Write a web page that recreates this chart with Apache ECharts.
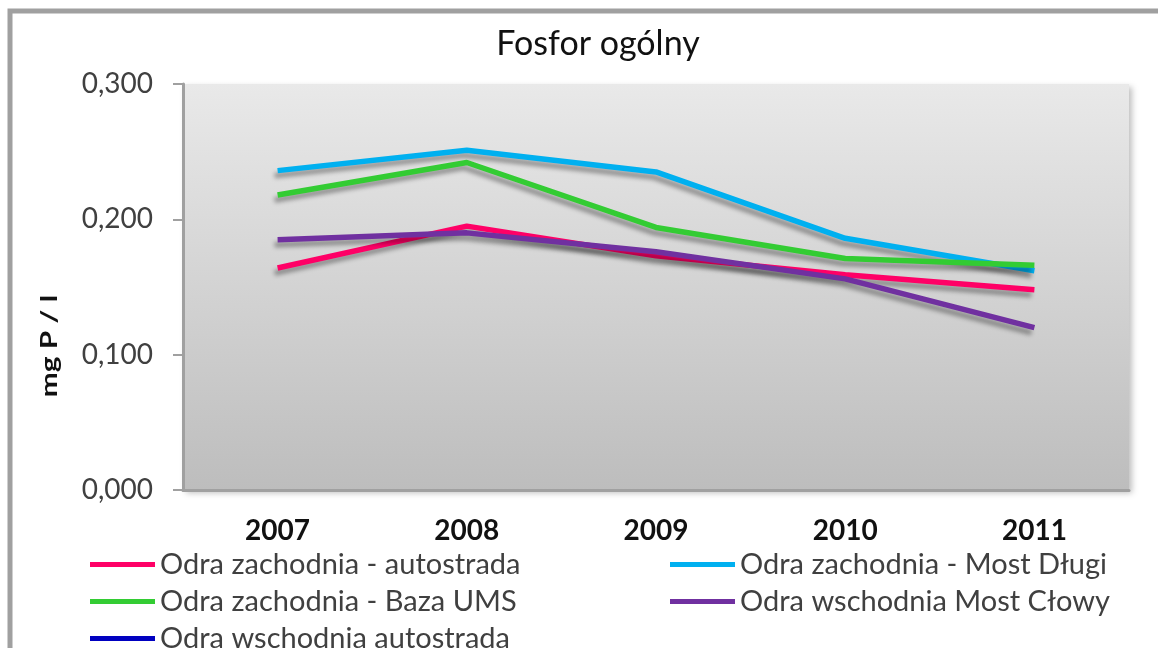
<!DOCTYPE html>
<html>
<head>
<meta charset="utf-8">
<script src="https://cdn.jsdelivr.net/npm/echarts@6/dist/echarts.min.js"></script>
<style>
html,body{margin:0;padding:0;background:#fff;}
#chart{width:1158px;height:648px;}
</style>
</head>
<body>
<div id="chart"></div>
<script>
var categories = ['2007', '2008', '2009', '2010', '2011'];
var zachAutostrada = [0.164, 0.195, 0.173, 0.159, 0.148];
var zachMostDlugi = [0.236, 0.251, 0.235, 0.186, 0.162];
var zachBazaUMS = [0.218, 0.242, 0.194, 0.171, 0.166];
var wschMostClowy = [0.185, 0.190, 0.176, 0.156, 0.120];
var wschAutostrada = [null, null, null, null, null];
var seriesNames = ['Odra zachodnia - autostrada', 'Odra zachodnia - Most Długi', 'Odra zachodnia - Baza UMS', 'Odra wschodnia Most Cłowy', 'Odra wschodnia autostrada'];
var yTicks = [0, 0.1, 0.2, 0.3];

var FONT = 'Lato, "Open Sans", sans-serif';
var colors = ['#ff0066', '#00b0f0', '#33cc33', '#7030a0', '#0000c0'];
var datasets = [zachAutostrada, zachMostDlugi, zachBazaUMS, wschMostClowy, wschAutostrada];

var chart = echarts.init(document.getElementById('chart'));

var series = datasets.map(function (d, i) {
  return {
    name: seriesNames[i],
    type: 'line',
    data: d,
    symbol: 'none',
    color: colors[i],
    lineStyle: {
      width: 5.5,
      color: colors[i],
      shadowColor: 'rgba(0,0,0,0.35)',
      shadowBlur: 4,
      shadowOffsetX: -3,
      shadowOffsetY: 5
    },
    z: 3 + i
  };
});

var legendCommon = {
  orient: 'vertical',
  icon: 'rect',
  itemWidth: 65,
  itemHeight: 5,
  itemGap: 8,
  padding: 0,
  height: 110,
  textStyle: { fontFamily: FONT, fontSize: 29, color: '#404040', lineHeight: 26 },
  selectedMode: false
};

chart.setOption({
  animation: false,
  backgroundColor: '#ffffff',
  title: {
    text: 'Fosfor ogólny',
    left: 593,
    top: 22,
    textAlign: 'center',
    textStyle: { fontFamily: FONT, fontSize: 34, fontWeight: 'normal', color: '#111111' }
  },
  legend: [
    Object.assign({}, legendCommon, { left: 90, top: 550, data: [seriesNames[0], seriesNames[2], seriesNames[4]] }),
    Object.assign({}, legendCommon, { left: 670, top: 550, data: [seriesNames[1], seriesNames[3]] })
  ],
  grid: {
    left: 183,
    right: 1158 - 1129,
    top: 84,
    bottom: 648 - 490,
    show: true,
    borderWidth: 0,
    backgroundColor: {
      type: 'linear', x: 0, y: 0, x2: 0, y2: 1,
      colorStops: [{ offset: 0, color: '#e9e9e9' }, { offset: 1, color: '#bdbdbd' }]
    },
    shadowColor: 'rgba(0,0,0,0.25)',
    shadowBlur: 6,
    shadowOffsetX: 3,
    shadowOffsetY: 3
  },
  xAxis: {
    type: 'category',
    data: categories,
    boundaryGap: true,
    axisLine: { lineStyle: { color: '#a0a0a0', width: 3 } },
    axisTick: { inside: true, length: 7, lineStyle: { color: '#a0a0a0', width: 2 } },
    axisLabel: { margin: 27, fontFamily: FONT, fontSize: 28, fontWeight: 'bold', color: '#111111' },
    splitLine: { show: false }
  },
  yAxis: {
    type: 'value',
    min: 0,
    max: 0.3,
    interval: 0.1,
    axisLine: { show: true, lineStyle: { color: '#a0a0a0', width: 3 } },
    axisTick: { show: true, length: 10, lineStyle: { color: '#a0a0a0', width: 2 } },
    axisLabel: {
      margin: 30,
      fontFamily: FONT, fontSize: 28, color: '#404040',
      formatter: function (v) { return v.toFixed(3).replace('.', ','); }
    },
    splitLine: { show: false }
  },
  graphic: [
    {
      type: 'rect',
      shape: { x: 10, y: 11, width: 1300, height: 800 },
      style: { fill: 'none', stroke: '#a0a0a0', lineWidth: 5 },
      silent: true
    },
    {
      type: 'text',
      x: 50,
      y: 346,
      rotation: Math.PI / 2,
      scaleX: 1.3,
      style: {
        text: 'mg P / l',
        fontFamily: FONT, fontSize: 23, fontWeight: 'bold', fill: '#111111',
        textAlign: 'center', textVerticalAlign: 'middle'
      }
    }
  ],
  series: series
});
</script>
</body>
</html>
